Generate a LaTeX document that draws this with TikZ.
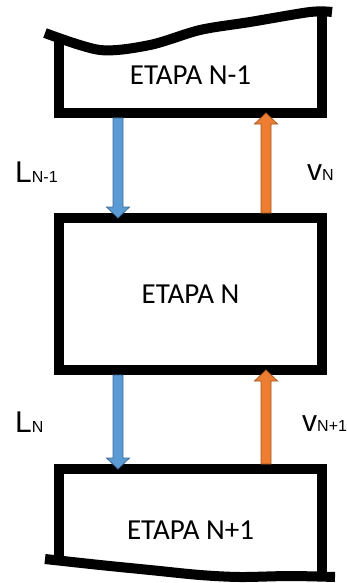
\documentclass[tikz,border=0pt]{standalone}
\usepackage{fontspec}
\setmainfont{Carlito}
\newfontfamily\labelfont{Liberation Sans}
\usetikzlibrary{calc}

\definecolor{liqblue}{HTML}{5B9BD5}
\definecolor{vaporange}{HTML}{ED7D31}

% block arrow from #1 to #2, tip at #2, filled with #3
\newcommand\flowarrow[3]{%
  \path (#1) coordinate (fa-from) (#2) coordinate (fa-to);
  \filldraw[fill=#3, draw=#3!70!black, line width=0.8pt, line join=miter]
    let \p1=(fa-from), \p2=(fa-to), \n1={sign(\y2-\y1)} in
    ({\x1-5pt},\y1) -- ({\x1-5pt},{\y2-(\n1)*11pt}) -- ({\x1-11.5pt},{\y2-(\n1)*11pt}) -- (\x1,\y2)
    -- ({\x1+11.5pt},{\y2-(\n1)*11pt}) -- ({\x1+5pt},{\y2-(\n1)*11pt}) -- ({\x1+5pt},\y1) -- cycle;
}
\newcommand\flowsub[1]{{\fontsize{16}{16}\selectfont #1}}

\begin{document}
\begin{tikzpicture}[x=1pt, y=-1pt,
    stage/.style={minimum width=263pt, outer sep=0pt, inner sep=0pt, line width=10pt, font=\fontsize{29}{29}\selectfont},
    wall/.style={line width=10pt, line join=miter},
    flowlabel/.style={anchor=base west, inner sep=0pt, font=\labelfont\fontsize{30}{30}\selectfont},
]
\useasboundingbox (0,0) rectangle (347,583);

% stages
\node[stage, minimum height=75pt] (prev) at (190.5,75.5) {ETAPA N-1};
\node[stage, draw, minimum height=152pt] (cur) at (190.5,294) {ETAPA N};
\node[stage, minimum height=122pt] (next) at (190.5,530) {ETAPA N+1};

% open outlines of the neighbouring stages
\draw[wall] (prev.north west) -- (prev.south west) -- (prev.south east) -- ([yshift=23pt]prev.north east);
\draw[wall] plot[smooth] coordinates {(45,33) (100,50) (150,45) (200,30) (250,22) (310,12) (332,12)};
\draw[wall] ([yshift=34pt]next.south west) -- (next.north west) -- (next.north east) -- ([yshift=18pt]next.south east);
\draw[wall] plot[smooth] coordinates {(45,559) (100,565) (150,570) (200,575) (240,577) (290,576) (335,577)};

% flows
\flowarrow{[xshift=-72.5pt,yshift=-5pt]prev.south}{[xshift=-72.5pt]cur.north}{liqblue}
\flowarrow{[xshift=75.5pt,yshift=5pt]cur.north}{[xshift=75.5pt]prev.south}{vaporange}
\flowarrow{[xshift=-72.5pt,yshift=-5pt]cur.south}{[xshift=-72.5pt]next.north}{liqblue}
\flowarrow{[xshift=75.5pt,yshift=5pt]next.north}{[xshift=75.5pt]cur.south}{vaporange}

\node[flowlabel] (lprev) at (15,182) {L\flowsub{N-1}};
\node[flowlabel] (vcur) at (307,180) {v\flowsub{N}};
\node[flowlabel] (lcur) at (15,432) {L\flowsub{N}};
\node[flowlabel] (vnext) at (302,431) {v\flowsub{N+1}};
\end{tikzpicture}
\end{document}
